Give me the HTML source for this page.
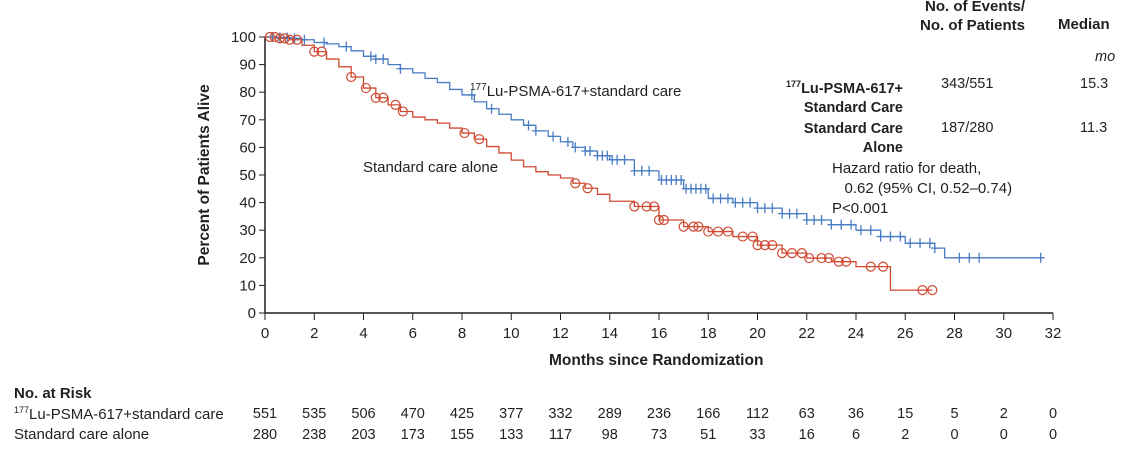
<!DOCTYPE html>
<html><head><meta charset="utf-8"><style>
body{margin:0;background:#fff;font-family:"Liberation Sans",sans-serif;color:#231f20}
svg text{font-family:"Liberation Sans",sans-serif;fill:#231f20}
</style></head><body>
<svg id="c" width="1126" height="453"></svg>
<script>
const ticksX=[0,2,4,6,8,10,12,14,16,18,20,22,24,26,28,30,32];
const ticksY=[0,10,20,30,40,50,60,70,80,90,100];
const luT=[0,0.5,1,1.5,2,2.5,3,3.5,4,4.5,5,5.5,6,6.5,7,7.5,8,8.5,9,9.5,10,10.5,11,11.5,12,12.5,13,13.5,14,15,16,17,18,19,20,21,22,23,24,25,26,27.2,27.6,31.6];
const luS=[100,99.8,99.5,99,98,97.5,96.5,95,93,92,90,88.5,87,85,83.5,81,79,76.5,74,72,70,68,66,64,62,60,58.7,57,55.5,51.5,48.2,45,41.5,40,38,36,33.7,32,30,27.7,25.3,23.5,20,20];
const scT=[0,0.5,1,1.5,2,2.5,3,3.5,4,4.5,5,5.5,6,6.5,7,7.5,8,8.5,9,9.5,10,10.5,11,11.5,12,12.5,13,13.5,14,15,16,17,18,19,20,21,22,23,24,25.4,27.1];
const scS=[100,99.5,99,97,94.7,92,89.2,85.5,81.5,78,75.4,73,71,70,68.8,67,65.2,63,60.3,58,55.4,53,51.2,50,48.9,47,45.2,43,40.5,38.6,33.7,31.3,29.5,27.7,24.6,21.7,19.9,18.6,16.8,8.3,8.3];
const luCens=[0.3,0.6,0.9,1.2,1.6,2.4,3.3,4.3,4.5,4.8,5.5,8.4,9.2,10.7,11,11.7,12.3,12.6,13,13.2,13.5,13.7,13.9,14.1,14.3,14.6,15,15.3,15.6,16.1,16.3,16.5,16.7,16.9,17.1,17.3,17.5,17.7,17.9,18.2,18.5,18.8,19.1,19.4,19.7,20,20.3,20.6,21,21.3,21.6,22,22.3,22.6,23,23.4,23.8,24.2,24.6,25,25.4,25.8,26.2,26.6,27,27.2,28.2,28.6,29,31.5];
const scCens=[0.2,0.4,0.6,0.8,1,1.3,2,2.3,3.5,4.1,4.5,4.8,5.3,5.6,8.1,8.7,12.6,13.1,15,15.5,15.8,16,16.2,17,17.4,17.6,18,18.4,18.8,19.4,19.8,20,20.3,20.6,21,21.4,21.8,22.1,22.6,22.9,23.3,23.6,24.6,25.1,26.7,27.1];
const risk1=[551,535,506,470,425,377,332,289,236,166,112,63,36,15,5,2,0];
const risk2=[280,238,203,173,155,133,117,98,73,51,33,16,6,2,0,0,0];
const NS="http://www.w3.org/2000/svg",svg=document.getElementById('c');
const X=t=>265+t*(1053-265)/32, Y=v=>313-v*(313-37)/100;
function el(tag,a,txt){const e=document.createElementNS(NS,tag);for(const k in a)e.setAttribute(k,a[k]);if(txt!=null)e.textContent=txt;svg.appendChild(e);return e;}
function stepAt(T,S,t){let s=S[0];for(let i=0;i<T.length;i++){if(T[i]<=t)s=S[i];}return s;}
let a=el('line',{x1:265,y1:37,x2:265,y2:313,stroke:'#231f20','stroke-width':1.5});

a=el('line',{x1:265,y1:313,x2:1053,y2:313,stroke:'#231f20','stroke-width':1.5});

ticksY.forEach(v=>{el('line',{x1:259,y1:Y(v),x2:265,y2:Y(v),stroke:'#231f20'});
 const t=el('text',{x:256,y:Y(v)+5,'text-anchor':'end','font-size':15},v);
 });
ticksX.forEach(v=>{el('line',{x1:X(v),y1:313,x2:X(v),y2:320,stroke:'#231f20'});
 const t=el('text',{x:X(v),y:338,'text-anchor':'middle','font-size':15},v);
 });
function curve(T,S,col,name){let d='M'+X(T[0])+','+Y(S[0]);
 for(let i=1;i<T.length;i++){d+=' H'+X(T[i])+' V'+Y(S[i]);}
 const p=el('path',{d:d,fill:'none',stroke:col,'stroke-width':1.3});
 }
curve(luT,luS,'#4a7cc4','lu-psma-curve');curve(scT,scS,'#d04a32','standard-care-curve');
luCens.forEach(t=>{const x=X(t),y=Y(stepAt(luT,luS,t));
 const p=el('path',{d:`M${x},${y-5}V${y+5}M${x-4},${y}H${x+4}`,stroke:'#4a7cc4','stroke-width':1.3});
 });
scCens.forEach(t=>{const c=el('circle',{cx:X(t),cy:Y(stepAt(scT,scS,t)),r:4.5,fill:'none',stroke:'#d04a32','stroke-width':1.2});
 });
ticksX.forEach((v,i)=>{let t=el('text',{x:X(v),y:418,'text-anchor':'middle','font-size':14.5},risk1[i]);
 
 t=el('text',{x:X(v),y:439,'text-anchor':'middle','font-size':14.5},risk2[i]);
 });
</script>
<div style="position:absolute;left:0;top:0;width:1126px;height:453px;pointer-events:none;font-size:14.5px">
<div style="position:absolute;left:205px;top:175px;transform:translate(-50%,-50%) rotate(-90deg);white-space:nowrap;font-weight:bold;font-size:15.5px">Percent of Patients Alive</div>
<div style="position:absolute;left:549px;top:352px;font-weight:bold;font-size:15.5px">Months since Randomization</div>
<div style="position:absolute;left:470px;top:82px;font-size:15px"><sup style="font-size:10px">177</sup>Lu-PSMA-617+standard care</div>
<div style="position:absolute;left:363px;top:159px;font-size:15px">Standard care alone</div>
<div style="position:absolute;left:880px;top:-3px;width:145px;text-align:right;font-weight:bold;line-height:19px;font-size:15px">No. of Events/<br>No. of Patients</div>
<div style="position:absolute;left:1058px;top:16px;font-weight:bold;font-size:15px">Median</div>
<div style="position:absolute;left:1095px;top:49px;font-style:italic">mo</div>
<div style="position:absolute;left:740px;top:75px;width:163px;text-align:right;font-weight:bold;line-height:19px"><sup style="font-size:9px">177</sup>Lu-PSMA-617+<br>Standard Care</div>
<div style="position:absolute;left:941px;top:76px">343/551</div><div style="position:absolute;left:1080px;top:76px">15.3</div>
<div style="position:absolute;left:740px;top:120px;width:163px;text-align:right;font-weight:bold;line-height:19px">Standard Care<br>Alone</div>
<div style="position:absolute;left:941px;top:120px">187/280</div><div style="position:absolute;left:1080px;top:120px">11.3</div>
<div style="position:absolute;left:832px;top:159px;line-height:20px;font-size:15px">Hazard ratio for death,<br>&nbsp;&nbsp;&nbsp;0.62 (95% CI, 0.52–0.74)<br>P&lt;0.001</div>
<div style="position:absolute;left:14px;top:385px;font-weight:bold;font-size:15px">No. at Risk</div>
<div style="position:absolute;left:14px;top:405px;font-size:15px"><sup style="font-size:9px">177</sup>Lu-PSMA-617+standard care</div>
<div style="position:absolute;left:14px;top:426px;font-size:15px">Standard care alone</div>
</div>
</body></html>
